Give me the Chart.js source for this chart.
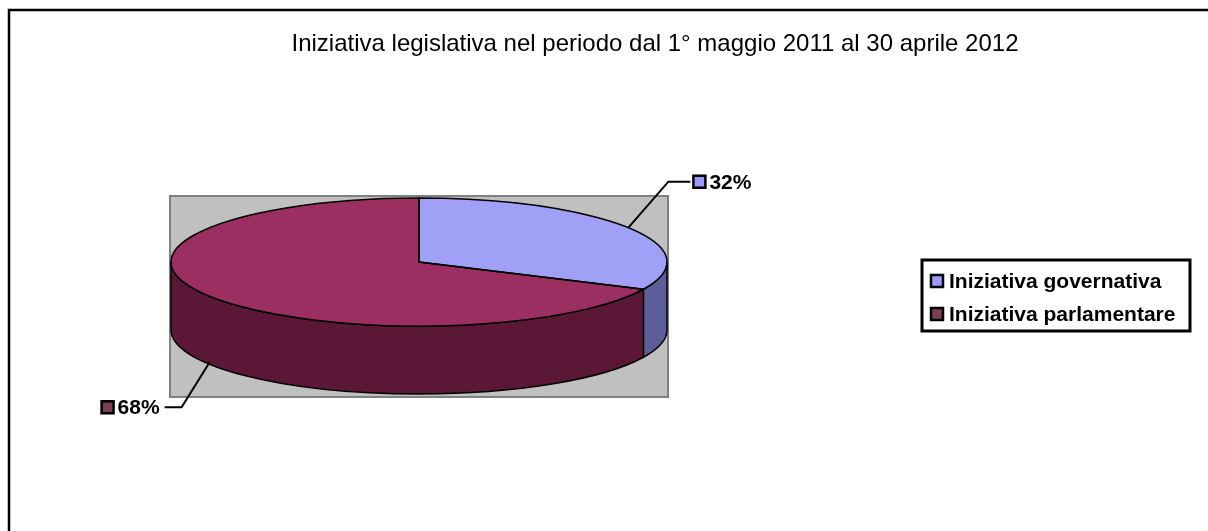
<!DOCTYPE html>
<html>
<head>
<meta charset="utf-8">
<script src="https://cdn.jsdelivr.net/npm/chart.js@4"></script>
<style>
  body { margin: 0; background: #fff; }
  #wrap { width: 1208px; height: 531px; position: relative; }
</style>
</head>
<body>
<div id="wrap"><canvas id="pieChart"></canvas></div>
<script>
const titleText = 'Iniziativa legislativa nel periodo dal 1° maggio 2011 al 30 aprile 2012';
const categories = ['Iniziativa governativa', 'Iniziativa parlamentare'];
const shares = [32, 68];
const topColors = ['#a0a0f6', '#9c2f62'];
const sideColors = ['#5d5d99', '#5a1836'];
const keyColors = ['#9999ff', '#7b3d58'];

const tilt = 0.258;   // vertical squash of the pie
const depth = 68;     // thickness of the pie

function wallPath(ctx, cx, cy, rx, ry, a, b) {
    ctx.beginPath();
    ctx.ellipse(cx, cy, rx, ry, 0, a, b, false);
    ctx.lineTo(cx + rx * Math.cos(b), cy + depth + ry * Math.sin(b));
    ctx.ellipse(cx, cy + depth, rx, ry, 0, b, a, true);
    ctx.closePath();
}

function square(ctx, x, y, size, fill) {
    ctx.fillStyle = fill;
    ctx.fillRect(x, y, size, size);
    ctx.lineWidth = 2.5;
    ctx.strokeStyle = '#000';
    ctx.strokeRect(x, y, size, size);
}

const pie3d = {
    id: 'pie3d',
    beforeDatasetsDraw(chart) {
        const ctx = chart.ctx;
        const arcs = chart.getDatasetMeta(0).data;
        const cx = arcs[0].x, cy = arcs[0].y;
        const rx = arcs[0].outerRadius, ry = rx * tilt;

        // outer frame
        ctx.save();
        ctx.strokeStyle = '#000';
        ctx.lineWidth = 2.5;
        ctx.beginPath();
        ctx.moveTo(9, 531);
        ctx.lineTo(9, 10);
        ctx.lineTo(1208, 10);
        ctx.stroke();

        // title
        ctx.fillStyle = '#000';
        ctx.font = '24px "Liberation Sans", Arial, sans-serif';
        ctx.textAlign = 'center';
        ctx.textBaseline = 'middle';
        ctx.fillText(titleText, 655, 44);

        // plot area
        const top = cy - ry - 2, h = 2 * ry + depth + 5;
        ctx.fillStyle = '#c0c0c0';
        ctx.fillRect(cx - rx - 1, top, 2 * rx + 2, h);
        ctx.strokeStyle = '#808080';
        ctx.lineWidth = 2;
        ctx.strokeRect(cx - rx - 1, top, 2 * rx + 2, h);

        // side walls (front half only)
        arcs.forEach((arc, i) => {
            const a = Math.max(arc.startAngle, 0);
            const b = Math.min(arc.endAngle, Math.PI);
            if (b <= a) return;
            wallPath(ctx, cx, cy, rx, ry, a, b);
            ctx.fillStyle = sideColors[i];
            ctx.fill();
            ctx.strokeStyle = '#000';
            ctx.lineWidth = 1.5;
            ctx.stroke();
        });
        ctx.restore();

        // squash the top face
        ctx.save();
        ctx.translate(cx, cy);
        ctx.scale(1, tilt);
        ctx.translate(-cx, -cy);
    },
    afterDatasetsDraw(chart) {
        const ctx = chart.ctx;
        ctx.restore();
        const arcs = chart.getDatasetMeta(0).data;
        const cx = arcs[0].x, cy = arcs[0].y;
        const rx = arcs[0].outerRadius, ry = rx * tilt;
        const total = shares.reduce((s, v) => s + v, 0);

        ctx.save();
        ctx.strokeStyle = '#000';
        ctx.lineWidth = 1.5;
        arcs.forEach(arc => {
            ctx.beginPath();
            ctx.moveTo(cx, cy);
            ctx.ellipse(cx, cy, rx, ry, 0, arc.startAngle, arc.endAngle, false);
            ctx.closePath();
            ctx.stroke();
        });

        // data labels with leader lines
        ctx.font = 'bold 21px "Liberation Sans", Arial, sans-serif';
        ctx.textBaseline = 'middle';
        arcs.forEach((arc, i) => {
            const mid = (arc.startAngle + arc.endAngle) / 2;
            const px = cx + rx * Math.cos(mid);
            let py = cy + ry * Math.sin(mid);
            const front = Math.sin(mid) > 0;
            if (front) py += depth - 2;
            const right = Math.cos(mid) > 0;
            const ex = px + (right ? 40 : -28);
            const ey = py + (front ? 45 : -46);
            const hx = ex + (right ? 22 : -17);
            ctx.lineWidth = 2;
            ctx.strokeStyle = '#000';
            ctx.beginPath();
            ctx.moveTo(px, py);
            ctx.lineTo(ex, ey);
            ctx.lineTo(hx, ey);
            ctx.stroke();
            const txt = Math.round(shares[i] / total * 100) + '%';
            const tw = ctx.measureText(txt).width;
            const sx = right ? hx + 3 : hx - 5 - tw - 4 - 12;
            square(ctx, sx, ey - 6, 12, keyColors[i]);
            ctx.fillStyle = '#000';
            ctx.textAlign = 'left';
            ctx.fillText(txt, sx + 16, ey + 1);
        });

        // legend box
        ctx.lineWidth = 3;
        ctx.strokeStyle = '#000';
        ctx.fillStyle = '#fff';
        ctx.fillRect(922, 260, 268, 71);
        ctx.strokeRect(922, 260, 268, 71);
        ctx.font = 'bold 21px "Liberation Sans", Arial, sans-serif';
        categories.forEach((name, i) => {
            const y = 281 + i * 33;
            square(ctx, 931, y - 6, 12, keyColors[i]);
            ctx.fillStyle = '#000';
            ctx.textAlign = 'left';
            ctx.fillText(name, 949, y + 1);
        });
        ctx.restore();
    }
};

const ctx = document.getElementById('pieChart').getContext('2d');
new Chart(ctx, {
    type: 'pie',
    data: {
        labels: categories,
        datasets: [{
            data: shares,
            backgroundColor: topColors,
            borderWidth: 0,
            clip: false
        }]
    },
    options: {
        responsive: true,
        maintainAspectRatio: false,
        animation: false,
        events: [],
        layout: { padding: { left: 171, right: 541, top: 14, bottom: 21 } },
        plugins: { legend: { display: false }, tooltip: { enabled: false }, title: { display: false } }
    },
    plugins: [pie3d]
});
</script>
</body>
</html>
